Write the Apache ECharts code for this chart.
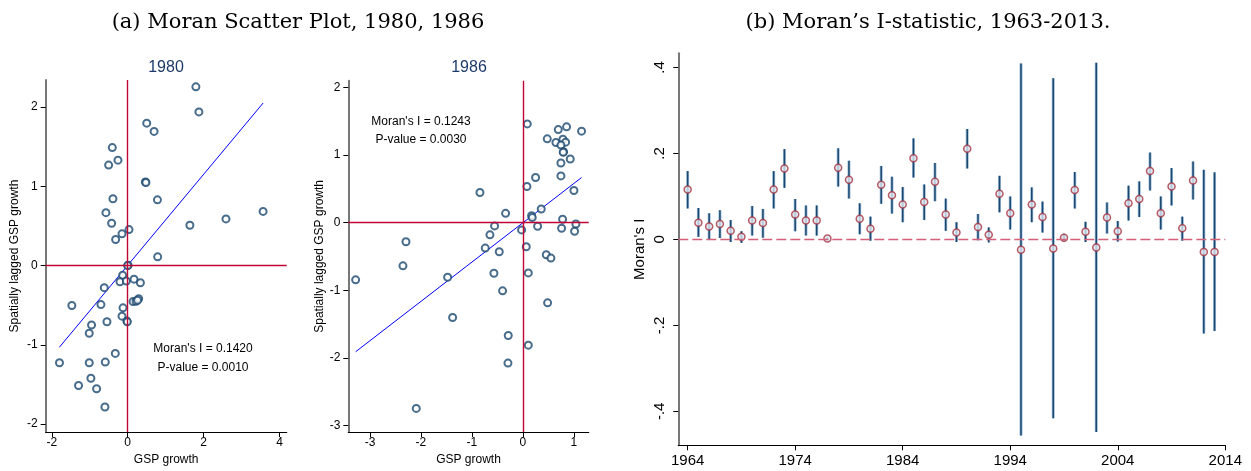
<!DOCTYPE html>
<html>
<head>
<meta charset="utf-8">
<script src="https://cdn.jsdelivr.net/npm/echarts@6/dist/echarts.min.js"></script>
<style>html,body{margin:0;padding:0;background:#fff;}#c{width:1251px;height:471px;}</style>
</head>
<body>
<div id="c"></div>
<script>
// ---------- Data ----------
const scatter1980 = [
  [1.797, 2.254], [1.877, 1.938], [0.502, 1.796], [0.696, 1.692], [-0.405, 1.488],
  [-0.256, 1.329], [-0.502, 1.267], [0.467, 1.054], [0.48, 1.048], [-0.388, 0.842],
  [0.784, 0.829], [-0.573, 0.667], [-0.423, 0.533], [1.639, 0.508], [2.590, 0.588],
  [3.568, 0.683], [0.035, 0.454], [-0.150, 0.400], [-0.317, 0.329], [0.79, 0.11],
  [0.009, 0.004], [0.0, 0.0], [-0.132, -0.121], [-0.203, -0.204], [-0.035, -0.196],
  [0.167, -0.171], [0.335, -0.217], [-0.617, -0.279], [-1.471, -0.504], [-0.705, -0.492],
  [-0.123, -0.533], [0.141, -0.454], [0.22, -0.45], [0.29, -0.417], [0.26, -0.437],
  [-0.150, -0.638], [-0.546, -0.708], [-0.02, -0.70], [-0.01, -0.71], [-0.952, -0.750],
  [-1.013, -0.854], [-0.326, -1.108], [-1.797, -1.225], [-1.013, -1.225], [-0.590, -1.217],
  [-0.969, -1.421], [-1.295, -1.513], [-0.819, -1.554], [-0.599, -1.783]
];
const fit1980 = [[-1.8, -1.03], [3.57, 2.05]];
const scatter1986 = [
  [0.085, 1.461], [0.693, 1.377], [0.856, 1.417], [1.150, 1.353], [0.477, 1.240],
  [0.647, 1.186], [0.784, 1.235], [0.837, 1.191], [0.745, 1.147], [0.797, 1.049],
  [0.79, 1.04], [0.928, 0.941], [0.745, 0.882], [0.248, 0.667], [0.745, 0.691],
  [0.078, 0.534], [1.000, 0.475], [-0.843, 0.446], [0.359, 0.201], [-0.340, 0.137],
  [0.170, 0.103], [0.183, 0.074], [0.778, 0.049], [-0.556, -0.049], [0.288, -0.054],
  [-0.026, -0.108], [0.758, -0.083], [1.039, -0.020], [1.013, -0.127], [-0.647, -0.181],
  [-2.294, -0.284], [-0.739, -0.377], [0.065, -0.358], [-0.464, -0.431], [0.458, -0.475],
  [0.549, -0.525], [-2.353, -0.640], [-3.281, -0.847], [-1.477, -0.808], [-0.569, -0.749],
  [0.105, -0.744], [-0.399, -1.010], [0.484, -1.187], [-1.379, -1.404], [-0.288, -1.670],
  [0.105, -1.813], [-0.294, -2.079], [-2.092, -2.749]
];
const fit1986 = [[-3.281, -1.911], [1.150, 0.667]];

const years = [1964,1965,1966,1967,1968,1969,1970,1971,1972,1973,1974,1975,1976,1977,1978,1979,1980,1981,1982,1983,1984,1985,1986,1987,1988,1989,1990,1991,1992,1993,1994,1995,1996,1997,1998,1999,2000,2001,2002,2003,2004,2005,2006,2007,2008,2009,2010,2011,2012,2013];
const moranI = [0.116,0.039,0.030,0.036,0.020,0.006,0.044,0.038,0.116,0.165,0.058,0.044,0.044,0.002,0.167,0.139,0.048,0.025,0.127,0.103,0.081,0.189,0.087,0.134,
  0.058,0.016,0.211,0.029,0.011,0.106,0.061,-0.024,0.081,0.052,-0.021,0.004,0.115,0.018,-0.019,0.051,0.019,0.084,0.094,0.159,0.061,0.123,0.026,0.137,-0.029,-0.029];
const ciLow = [0.072,0.006,0.000,0.003,-0.006,-0.008,0.009,0.004,0.072,0.120,0.019,0.009,0.009,-0.001,0.123,0.095,0.012,-0.003,0.083,0.060,0.040,0.144,0.045,0.089,
  0.020,-0.006,0.165,-0.002,-0.007,0.063,0.023,-0.456,0.040,0.016,-0.416,-0.005,0.072,-0.006,-0.448,0.014,-0.005,0.044,0.052,0.114,0.023,0.079,-0.003,0.093,-0.219,-0.213];
const ciHigh = [0.159,0.073,0.061,0.068,0.045,0.019,0.078,0.071,0.159,0.210,0.094,0.079,0.079,0.005,0.212,0.183,0.084,0.053,0.171,0.146,0.122,0.235,0.128,0.178,
  0.095,0.040,0.257,0.059,0.028,0.148,0.100,0.409,0.121,0.088,0.375,0.013,0.157,0.041,0.411,0.086,0.043,0.125,0.135,0.202,0.100,0.166,0.053,0.181,0.162,0.156];

const xTicks1980 = [-2, 0, 2, 4];
const yTicks1980 = [-2, -1, 0, 1, 2];
const xTicks1986 = [-3, -2, -1, 0, 1];
const yTicks1986 = [-3, -2, -1, 0, 1, 2];
const yearTicks = [1964, 1974, 1984, 1994, 2004, 2014];
const moranTicks = [-0.4, -0.2, 0, 0.2, 0.4];

// ---------- Styles ----------
const FONT = 'Liberation Sans, Arial, sans-serif';
const NAVY = '#1a476f';
const RED = '#c10534';

function valAxis(idx, min, max, ticks, opts) {
  opts = opts || {};
  return {
    type: 'value', gridIndex: idx, min: min, max: max,
    axisLine: { show: true, onZero: false, lineStyle: { color: opts.lineColor || '#000', width: opts.lineWidth || 1.2 } },
    axisTick: { show: true, length: 5, inside: false, customValues: ticks, lineStyle: { color: '#000', width: 1 } },
    axisLabel: { show: true, customValues: ticks, color: '#000', fontFamily: FONT, fontSize: opts.fontSize || 12,
                 margin: opts.margin || 5, rotate: opts.rotate || 0,
                 formatter: opts.formatter || function (v) { return String(v); } },
    splitLine: { show: false },
    nameLocation: 'middle', nameGap: opts.nameGap || 20, name: opts.name || '',
    nameTextStyle: { color: '#000', fontFamily: FONT, fontSize: opts.nameSize || 12 }
  };
}

const chart = echarts.init(document.getElementById('c'), null, { renderer: 'canvas' });

const errData = years.map((y, i) => [y, ciLow[i], ciHigh[i]]);
const ptData = years.map((y, i) => [y, moranI[i]]);

const zeroLines = {
  symbol: 'none', silent: true, label: { show: false }, animation: false,
  lineStyle: { color: RED, width: 1.4, type: 'solid' },
  data: [{ xAxis: 0 }, { yAxis: 0 }]
};

const option = {
  backgroundColor: '#fff',
  animation: false,
  grid: [
    { left: 45.7, top: 80, width: 241, height: 355 },
    { left: 348.3, top: 80.7, width: 240.4, height: 353.6 },
    { left: 678.3, top: 53.3, width: 547, height: 392 }
  ],
  xAxis: [
    valAxis(0, -2.16, 4.19, xTicks1980, { name: 'GSP growth', nameGap: 19 }),
    valAxis(1, -3.425, 1.29, xTicks1986, { name: 'GSP growth', nameGap: 19 }),
    valAxis(2, 1963.13, 2014, yearTicks, { fontSize: 15, margin: 8 })
  ],
  yAxis: [
    valAxis(0, -2.1, 2.34, yTicks1980, { name: 'Spatially lagged GSP growth', nameGap: 25, lineColor: '#777', lineWidth: 2, margin: 8 }),
    valAxis(1, -3.1, 2.1, yTicks1986, { name: 'Spatially lagged GSP growth', nameGap: 23, lineColor: '#777', lineWidth: 2, margin: 8 }),
    valAxis(2, -0.479, 0.433, moranTicks, { name: "Moran's I", nameGap: 31, nameSize: 15, fontSize: 15, rotate: 90, margin: 11,
      lineColor: '#777', lineWidth: 2,
      formatter: function (v) { const r = Math.round(v * 10) / 10; return r === 0 ? '0' : String(r).replace('0.', '.'); } })
  ],
  series: [
    { type: 'line', xAxisIndex: 0, yAxisIndex: 0, data: fit1980, symbol: 'none', silent: true,
      lineStyle: { color: '#0000ff', width: 1 }, markLine: zeroLines, z: 2 },
    { type: 'scatter', xAxisIndex: 0, yAxisIndex: 0, data: scatter1980, symbol: 'emptyCircle', symbolSize: 7,
      itemStyle: { color: NAVY, borderColor: NAVY, borderWidth: 1 }, z: 3 },
    { type: 'line', xAxisIndex: 1, yAxisIndex: 1, data: fit1986, symbol: 'none', silent: true,
      lineStyle: { color: '#0000ff', width: 1 }, markLine: zeroLines, z: 2 },
    { type: 'scatter', xAxisIndex: 1, yAxisIndex: 1, data: scatter1986, symbol: 'emptyCircle', symbolSize: 7,
      itemStyle: { color: NAVY, borderColor: NAVY, borderWidth: 1 }, z: 3 },
    { type: 'custom', xAxisIndex: 2, yAxisIndex: 2, data: errData, encode: { x: 0, y: [1, 2] }, z: 2,
      renderItem: function (params, api) {
        const x = api.value(0);
        const p1 = api.coord([x, api.value(1)]);
        const p2 = api.coord([x, api.value(2)]);
        return { type: 'group', children: [
          { type: 'line', shape: { x1: p1[0], y1: p1[1], x2: p2[0], y2: p2[1] }, style: { stroke: '#9dbbd6', lineWidth: 3 } },
          { type: 'line', shape: { x1: p1[0], y1: p1[1], x2: p2[0], y2: p2[1] }, style: { stroke: NAVY, lineWidth: 1.5 } }
        ] };
      },
      markLine: { symbol: 'none', silent: true, label: { show: false },
        lineStyle: { color: '#d4607a', width: 1.4, type: [10, 4] }, data: [{ yAxis: 0 }] }
    },
    { type: 'scatter', xAxisIndex: 2, yAxisIndex: 2, data: ptData, symbol: 'circle', symbolSize: 7, z: 4,
      itemStyle: { color: '#dfe8f2', borderColor: '#a8323e', borderWidth: 1.5 } }
  ],
  graphic: [
    { type: 'text', x: 298, y: 22.5, style: { text: '(a) Moran Scatter Plot, 1980, 1986', font: '21px "DejaVu Serif", serif', fill: '#000', align: 'center', verticalAlign: 'middle' } },
    { type: 'text', x: 928, y: 22.5, style: { text: "(b) Moran\u2019s I-statistic, 1963-2013.", font: '21px "DejaVu Serif", serif', fill: '#000', align: 'center', verticalAlign: 'middle' } },
    { type: 'text', x: 166, y: 68, style: { text: '1980', font: '16px ' + FONT, fill: '#1e3a6a', align: 'center', verticalAlign: 'middle' } },
    { type: 'text', x: 469, y: 68, style: { text: '1986', font: '16px ' + FONT, fill: '#1e3a6a', align: 'center', verticalAlign: 'middle' } },
    { type: 'text', x: 203, y: 348.3, style: { text: "Moran's I = 0.1420", font: '12px ' + FONT, fill: '#000', align: 'center', verticalAlign: 'middle' } },
    { type: 'text', x: 203, y: 367.7, style: { text: 'P-value = 0.0010', font: '12px ' + FONT, fill: '#000', align: 'center', verticalAlign: 'middle' } },
    { type: 'text', x: 421, y: 122, style: { text: "Moran's I = 0.1243", font: '12px ' + FONT, fill: '#000', align: 'center', verticalAlign: 'middle' } },
    { type: 'text', x: 421, y: 139.3, style: { text: 'P-value = 0.0030', font: '12px ' + FONT, fill: '#000', align: 'center', verticalAlign: 'middle' } }
  ]
};
chart.setOption(option);
</script>
</body>
</html>
